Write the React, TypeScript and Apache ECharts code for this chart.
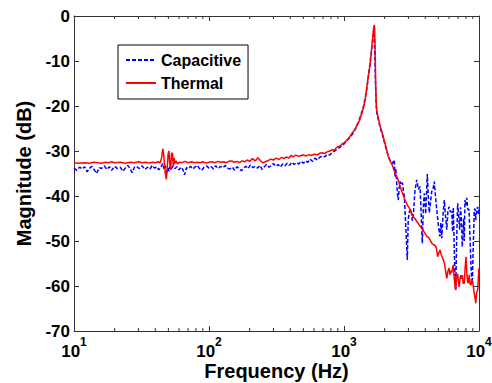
import React, { useEffect, useRef } from "react";
import * as echarts from "echarts";

const capFreq = [10, 10.5, 11, 11.5, 12, 12.5, 13, 13.5, 14, 14.7, 15.4, 16, 16.8, 17.5, 18.3, 19, 20, 21, 22, 23, 24, 25, 26, 27, 28, 29, 30.5, 32, 33.5, 35, 36.5, 38, 39.5, 41, 42.5, 44, 45.5, 46.5, 47.5, 48.5, 49.5, 50.5, 51.5, 52.5, 54, 56, 58, 60, 62, 64, 66, 68, 70, 73, 76, 79, 82, 85, 88, 92, 96, 100, 104, 108, 112, 117, 122, 127, 132, 137, 143, 149, 155, 161, 167, 174, 181, 188, 195, 203, 211, 220, 229, 238, 247, 257, 267, 278, 289, 300, 312, 325, 338, 351, 365, 380, 395, 410, 427, 444, 462, 480, 500, 520, 540, 560, 585, 610, 635, 660, 690, 720, 750, 785, 820, 855, 890, 930, 970, 1010, 1060, 1110, 1170, 1230, 1290, 1340, 1390, 1440, 1480, 1515, 1560, 1600, 1622, 1650, 1665, 1680, 1695, 1710, 1730, 1750, 1780, 1820, 1870, 1930, 1990, 2050, 2110, 2170, 2230, 2290, 2340, 2360, 2390, 2420, 2460, 2500, 2525, 2560, 2600, 2650, 2705, 2760, 2800, 2870, 2944, 2990, 3050, 3133, 3200, 3258, 3350, 3455, 3550, 3658, 3730, 3804, 3870, 3936, 4030, 4140, 4210, 4285, 4370, 4465, 4560, 4665, 4760, 4862, 5000, 5140, 5220, 5300, 5420, 5535, 5650, 5770, 5880, 5995, 6140, 6280, 6370, 6450, 6560, 6640, 6720, 6830, 6950, 7050, 7195, 7300, 7420, 7520, 7620, 7700, 7790, 7870, 7990, 8110, 8270, 8430, 8600, 8760, 8920, 9050, 9230, 9340, 9460, 9600, 9780, 9900, 10000];
const capDb = [-33.8, -34.3, -33.6, -34.0, -33.5, -34.6, -33.9, -33.4, -34.0, -35.0, -33.7, -33.9, -33.3, -34.1, -33.5, -34.3, -33.4, -33.9, -33.6, -34.5, -33.8, -33.2, -33.9, -34.8, -33.6, -33.4, -33.9, -33.3, -34.1, -33.6, -34.0, -33.2, -33.8, -33.5, -34.2, -33.6, -32.8, -34.0, -33.2, -35.2, -33.6, -34.5, -33.3, -34.0, -33.4, -33.9, -33.5, -34.2, -33.6, -34.1, -35.3, -33.7, -33.9, -33.4, -34.0, -33.5, -33.2, -33.9, -34.3, -33.6, -33.3, -33.8, -33.5, -34.0, -33.3, -33.9, -33.4, -33.7, -33.2, -33.8, -34.0, -33.6, -34.3, -33.5, -33.9, -34.4, -33.7, -33.4, -33.9, -33.1, -33.7, -33.4, -33.8, -33.2, -34.1, -33.5, -33.0, -33.6, -33.3, -32.8, -33.4, -33.0, -33.6, -32.9, -33.3, -32.7, -33.2, -32.5, -33.0, -32.6, -32.9, -32.3, -32.7, -32.2, -32.5, -31.8, -32.3, -31.6, -32.0, -31.4, -31.1, -31.3, -30.8, -30.9, -30.3, -30.0, -29.6, -29.2, -28.8, -28.3, -27.6, -26.9, -26.0, -24.8, -23.3, -21.8, -20.2, -18.0, -16.0, -13.5, -10.5, -7.5, -6.0, -3.9, -3.6, -5.0, -10.0, -15.0, -19.5, -21.5, -22.5, -23.8, -25.2, -26.5, -28.0, -29.5, -30.8, -31.8, -32.3, -32.8, -32.0, -32.4, -35.7, -34.0, -37.5, -40.2, -40.9, -38.5, -36.8, -37.5, -37.0, -39.0, -40.1, -47.0, -54.2, -45.3, -43.5, -43.0, -45.5, -44.5, -39.0, -36.4, -38.5, -37.9, -44.0, -50.5, -42.5, -39.4, -44.0, -35.1, -40.0, -43.7, -41.5, -39.0, -38.5, -36.8, -40.0, -43.0, -46.5, -49.0, -46.0, -49.4, -44.0, -40.9, -44.5, -47.5, -43.5, -42.4, -43.5, -43.5, -48.0, -42.6, -52.0, -58.0, -60.9, -50.0, -41.6, -44.0, -47.5, -42.5, -45.5, -51.3, -48.0, -45.0, -50.0, -40.9, -42.0, -40.4, -43.0, -43.0, -50.0, -57.0, -59.4, -52.0, -43.1, -42.8, -45.3, -43.5, -42.4, -44.0, -43.0];

const thermFreq = [10, 11, 12, 13, 14, 15, 16, 17, 18, 19, 20, 22, 24, 26, 28, 30, 32, 34, 36, 38, 40, 42, 43.5, 44.5, 45.5, 46.2, 46.8, 47.5, 48.3, 49, 49.8, 50.5, 51.2, 52, 52.8, 53.6, 54.4, 55.2, 56, 57, 58.5, 60, 63, 66, 70, 74, 78, 82, 86, 90, 95, 100, 105, 110, 116, 122, 128, 134, 140, 147, 154, 161, 168, 176, 184, 192, 200, 210, 220, 230, 240, 250, 262, 275, 288, 300, 315, 330, 345, 360, 375, 390, 405, 420, 440, 460, 480, 500, 525, 550, 575, 600, 630, 660, 690, 720, 750, 785, 820, 850, 880, 910, 940, 970, 1000, 1050, 1100, 1150, 1200, 1250, 1300, 1350, 1400, 1440, 1480, 1520, 1560, 1600, 1630, 1655, 1670, 1685, 1700, 1715, 1730, 1745, 1770, 1800, 1850, 1900, 1955, 2000, 2060, 2130, 2200, 2260, 2330, 2400, 2470, 2530, 2600, 2680, 2760, 2830, 2900, 2990, 3080, 3170, 3260, 3350, 3450, 3550, 3650, 3760, 3870, 3980, 4100, 4230, 4350, 4470, 4600, 4720, 4830, 4940, 5040, 5140, 5250, 5350, 5445, 5550, 5650, 5770, 5880, 5995, 6100, 6200, 6280, 6370, 6450, 6560, 6640, 6720, 6830, 6950, 7050, 7130, 7230, 7330, 7420, 7520, 7640, 7780, 7890, 8010, 8120, 8230, 8340, 8460, 8600, 8730, 8860, 8980, 9080, 9200, 9340, 9460, 9600, 9780, 9900, 10000];
const thermDb = [-32.6, -32.7, -32.6, -32.7, -32.5, -32.6, -32.7, -32.5, -32.6, -32.4, -32.6, -32.5, -32.7, -32.5, -32.6, -32.4, -32.6, -32.5, -32.7, -32.5, -32.6, -32.4, -32.6, -31.6, -29.5, -30.8, -33.0, -35.0, -36.3, -34.0, -30.6, -30.0, -32.8, -34.2, -30.4, -30.6, -33.5, -31.5, -32.8, -32.2, -32.9, -32.5, -32.6, -32.3, -32.6, -32.4, -32.6, -32.5, -32.6, -32.4, -32.7, -32.5, -32.4, -32.6, -32.3, -32.5, -32.4, -32.6, -32.3, -32.2, -32.5, -32.3, -32.6, -32.2, -32.4, -32.0, -32.3, -31.7, -32.2, -31.5, -32.1, -32.6, -32.4, -32.1, -31.8, -32.0, -31.6, -31.9, -31.4, -31.7, -31.3, -31.6, -31.0, -31.3, -30.9, -31.2, -31.0, -30.9, -31.1, -30.8, -31.0, -30.7, -30.9, -30.5, -30.4, -30.6, -30.2, -30.0, -29.7, -29.8, -29.2, -29.0, -28.9, -28.4, -28.2, -27.6, -26.9, -26.0, -25.3, -24.2, -23.3, -21.8, -20.2, -18.3, -15.5, -13.0, -10.8, -7.5, -5.0, -2.8, -2.0, -2.6, -7.0, -14.0, -19.0, -21.0, -21.8, -22.8, -24.5, -25.5, -26.9, -28.0, -29.5, -31.2, -32.3, -32.9, -34.0, -35.0, -35.8, -36.6, -37.8, -39.0, -40.0, -40.9, -41.6, -42.3, -42.9, -43.8, -44.6, -45.0, -45.6, -46.1, -46.7, -47.1, -47.7, -48.3, -49.0, -49.2, -49.8, -50.5, -50.8, -51.0, -51.5, -53.5, -52.6, -52.0, -53.0, -53.6, -54.2, -55.0, -56.5, -58.3, -56.8, -56.0, -57.5, -56.6, -57.0, -56.0, -55.3, -58.5, -59.8, -60.9, -58.0, -57.3, -59.0, -60.2, -58.5, -57.6, -58.4, -57.6, -59.4, -59.4, -56.0, -53.5, -57.0, -59.0, -59.4, -57.5, -59.6, -59.8, -58.8, -59.0, -59.0, -61.5, -62.5, -63.8, -61.5, -60.9, -58.0, -56.0];

const minorTicks = [20, 30, 40, 50, 60, 70, 80, 90, 200, 300, 400, 500, 600, 700, 800, 900, 2000, 3000, 4000, 5000, 6000, 7000, 8000, 9000];

const FONT = "Liberation Sans";
const AXIS = "#333";

export default function App() {
  const ref = useRef<HTMLDivElement>(null);
  useEffect(() => {
    if (!ref.current) return;
    const chart = echarts.init(ref.current, null, { renderer: "svg" });
    const expo = (v: number) => String(Math.round(Math.log10(v)));
    chart.setOption({
      animation: false,
      backgroundColor: "#fff",
      grid: { left: 74, right: 13, top: 16, bottom: 52, outerBoundsMode: "none" },
      legend: {
        data: ["Capacitive", "Thermal"],
        orient: "vertical",
        left: 118,
        top: 45,
        itemWidth: 30,
        itemHeight: 14,
        itemGap: 7,
        padding: [7, 7, 8, 7],
        borderColor: "#000",
        borderWidth: 1,
        borderRadius: 0,
        backgroundColor: "#fff",
        itemStyle: { opacity: 0 },
        textStyle: { fontFamily: FONT, fontWeight: "bold", fontSize: 16, color: "#000" },
      },
      xAxis: [
        {
          type: "log",
          logBase: 10,
          min: 10,
          max: 10000,
          position: "bottom",
          axisLine: { show: true, onZero: false, lineStyle: { color: AXIS, width: 1 } },
          axisTick: { show: true, inside: true, length: 5, lineStyle: { color: AXIS } },
          splitLine: { show: false },
          minorTick: { show: false },
          axisLabel: {
            margin: 5,
            formatter: (v: number) => `{b|10}{s|${expo(v)}}`,
            rich: {
              b: { fontFamily: FONT, fontWeight: "bold", fontSize: 17, color: "#000", padding: [7, 0, 0, 0], verticalAlign: "bottom" },
              s: { fontFamily: FONT, fontWeight: "bold", fontSize: 12, color: "#000", verticalAlign: "top" },
            },
          },
          name: "Frequency (Hz)",
          nameLocation: "middle",
          nameGap: 34.5,
          nameMoveOverlap: false,
          nameTextStyle: { fontFamily: FONT, fontWeight: "bold", fontSize: 20, color: "#000", lineHeight: 10 },
        },
        {
          type: "log",
          logBase: 10,
          min: 10,
          max: 10000,
          position: "top",
          axisLine: { show: true, onZero: false, lineStyle: { color: AXIS, width: 1 } },
          axisTick: { show: true, inside: true, length: 5, lineStyle: { color: AXIS } },
          axisLabel: { show: false },
          splitLine: { show: false },
        },
      ],
      yAxis: [
        {
          type: "value",
          min: -70,
          max: 0,
          interval: 10,
          position: "left",
          axisLine: { show: true, onZero: false, lineStyle: { color: AXIS, width: 1 } },
          axisTick: { show: true, inside: true, length: 5, lineStyle: { color: AXIS } },
          splitLine: { show: false },
          axisLabel: { margin: 4, fontFamily: FONT, fontWeight: "bold", fontSize: 17, color: "#000", lineHeight: 10 },
          name: "Magnitude (dB)",
          nameLocation: "middle",
          nameGap: 40,
          nameMoveOverlap: false,
          nameTextStyle: { fontFamily: FONT, fontWeight: "bold", fontSize: 20, color: "#000" },
        },
        {
          type: "value",
          min: -70,
          max: 0,
          interval: 10,
          position: "right",
          axisLine: { show: true, onZero: false, lineStyle: { color: AXIS, width: 1 } },
          axisTick: { show: true, inside: true, length: 5, lineStyle: { color: AXIS } },
          axisLabel: { show: false },
          splitLine: { show: false },
        },
      ],
      series: [
        {
          name: "Capacitive",
          type: "line",
          xAxisIndex: 0,
          yAxisIndex: 0,
          data: capFreq.map((f, i) => [f, capDb[i]]),
          showSymbol: false,
          symbol: "none",
          lineStyle: { color: "#0000ff", width: 1.5, type: [4, 2] },
          itemStyle: { color: "#0000ff" },
          z: 2,
        },
        {
          name: "Thermal",
          type: "line",
          xAxisIndex: 0,
          yAxisIndex: 0,
          data: thermFreq.map((f, i) => [f, thermDb[i]]),
          showSymbol: false,
          symbol: "none",
          lineStyle: { color: "#ff0000", width: 1.5, type: "solid" },
          itemStyle: { color: "#ff0000" },
          z: 3,
        },
        {
          type: "custom",
          xAxisIndex: 0,
          yAxisIndex: 0,
          silent: true,
          clip: false,
          data: minorTicks.map((v) => [v, -70]),
          renderItem: (_p: any, api: any) => {
            const v = api.value(0);
            const b = api.coord([v, -70]);
            const t = api.coord([v, 0]);
            return {
              type: "group",
              children: [
                { type: "line", shape: { x1: b[0], y1: b[1], x2: b[0], y2: b[1] - 3 }, style: { stroke: AXIS, lineWidth: 1 } },
                { type: "line", shape: { x1: t[0], y1: t[1], x2: t[0], y2: t[1] + 3 }, style: { stroke: AXIS, lineWidth: 1 } },
              ],
            };
          },
          z: 1,
        },
      ],
    });
    return () => chart.dispose();
  }, []);
  return <div ref={ref} style={{ position: "fixed", left: 0, top: 0, width: 492, height: 383 }} />;
}
